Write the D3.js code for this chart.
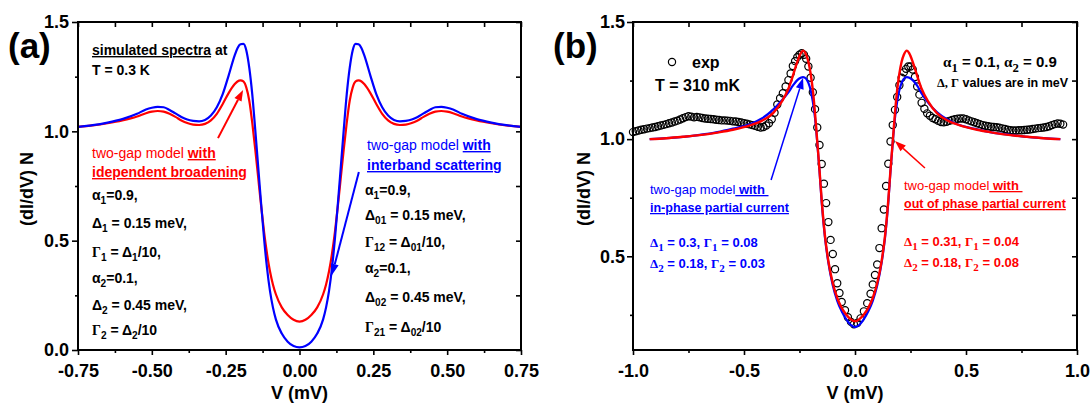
<!DOCTYPE html>
<html>
<head>
<meta charset="utf-8">
<script src="https://cdn.jsdelivr.net/npm/d3@7"></script>
<style>
  body { margin: 0; background: #fff; }
  svg { display: block; font-family: "Liberation Sans", Arial, sans-serif; }
  text { white-space: pre; }
</style>
</head>
<body>
<svg id="chart" width="1092" height="407"></svg>
<script>
// ---- panel (a): simulated spectra, [V (mV), N] ----
var broadenA = [
  [-0.75,1.02],[-0.70,1.027],[-0.65,1.037],[-0.60,1.05],[-0.55,1.068],[-0.52,1.083],[-0.50,1.09],
  [-0.48,1.093],[-0.46,1.09],[-0.44,1.08],[-0.42,1.066],[-0.40,1.05],[-0.38,1.038],[-0.36,1.031],
  [-0.34,1.029],[-0.32,1.034],[-0.30,1.05],[-0.28,1.08],[-0.26,1.125],[-0.24,1.175],[-0.22,1.215],
  [-0.21,1.228],[-0.20,1.233],[-0.19,1.228],[-0.18,1.2],[-0.17,1.14],[-0.16,1.04],[-0.15,0.92],
  [-0.14,0.79],[-0.13,0.66],[-0.12,0.54],[-0.11,0.44],[-0.10,0.36],[-0.09,0.30],[-0.08,0.255],
  [-0.06,0.195],[-0.04,0.16],[-0.02,0.138],[0,0.13],
  [0.02,0.138],[0.04,0.16],[0.06,0.195],[0.08,0.255],[0.09,0.30],[0.10,0.36],[0.11,0.44],
  [0.12,0.54],[0.13,0.66],[0.14,0.79],[0.15,0.92],[0.16,1.04],[0.17,1.14],[0.18,1.2],[0.19,1.228],
  [0.20,1.233],[0.21,1.228],[0.22,1.215],[0.24,1.175],[0.26,1.125],[0.28,1.08],[0.30,1.05],
  [0.32,1.034],[0.34,1.029],[0.36,1.031],[0.38,1.038],[0.40,1.05],[0.42,1.066],[0.44,1.08],
  [0.46,1.09],[0.48,1.093],[0.50,1.09],[0.52,1.083],[0.55,1.068],[0.60,1.05],[0.65,1.037],
  [0.70,1.027],[0.75,1.02]
];
var interbandA = [
  [-0.75,1.02],[-0.70,1.028],[-0.65,1.04],[-0.60,1.056],[-0.55,1.08],[-0.52,1.1],[-0.50,1.108],
  [-0.48,1.112],[-0.46,1.11],[-0.44,1.098],[-0.42,1.082],[-0.40,1.066],[-0.38,1.054],[-0.36,1.048],
  [-0.34,1.046],[-0.32,1.052],[-0.30,1.072],[-0.28,1.11],[-0.26,1.17],[-0.24,1.255],[-0.22,1.345],
  [-0.21,1.38],[-0.20,1.398],[-0.19,1.40],[-0.18,1.37],[-0.17,1.29],[-0.16,1.17],[-0.15,1.01],
  [-0.14,0.84],[-0.13,0.67],[-0.12,0.51],[-0.11,0.375],[-0.10,0.27],[-0.09,0.195],[-0.08,0.14],
  [-0.06,0.075],[-0.04,0.038],[-0.02,0.018],[0,0.012],
  [0.02,0.018],[0.04,0.038],[0.06,0.075],[0.08,0.14],[0.09,0.195],[0.10,0.27],[0.11,0.375],
  [0.12,0.51],[0.13,0.67],[0.14,0.84],[0.15,1.01],[0.16,1.17],[0.17,1.29],[0.18,1.37],[0.19,1.40],
  [0.20,1.398],[0.21,1.38],[0.22,1.345],[0.24,1.255],[0.26,1.17],[0.28,1.11],[0.30,1.072],
  [0.32,1.052],[0.34,1.046],[0.36,1.048],[0.38,1.054],[0.40,1.066],[0.42,1.082],[0.44,1.098],
  [0.46,1.11],[0.48,1.112],[0.50,1.108],[0.52,1.1],[0.55,1.08],[0.60,1.056],[0.65,1.04],
  [0.70,1.028],[0.75,1.02]
];
var xTicksA = [-0.75, -0.5, -0.25, 0, 0.25, 0.5, 0.75];
var xLabelsA = ["-0.75", "-0.50", "-0.25", "0.00", "0.25", "0.50", "0.75"];
var xMinorA = [-0.625, -0.375, -0.125, 0.125, 0.375, 0.625];
var yTicksA = [0, 0.5, 1.0, 1.5];
var yLabelsA = ["0.0", "0.5", "1.0", "1.5"];
var yMinorA = [0.25, 0.75, 1.25];

// ---- panel (b): experiment + fits, [V (mV), N] ----
var expB = [
  [-1.000,1.030],[-0.9875,1.034],[-0.975,1.037],[-0.9625,1.040],[-0.950,1.042],[-0.9375,1.045],
  [-0.925,1.047],[-0.9125,1.050],[-0.900,1.052],[-0.8875,1.055],[-0.875,1.058],[-0.8625,1.061],
  [-0.850,1.064],[-0.8375,1.068],[-0.825,1.071],[-0.8125,1.075],[-0.800,1.079],[-0.7875,1.084],
  [-0.775,1.089],[-0.7625,1.094],[-0.750,1.098],[-0.7375,1.096],[-0.725,1.093],[-0.7125,1.095],
  [-0.700,1.093],[-0.6875,1.090],[-0.675,1.088],[-0.6625,1.087],[-0.650,1.086],[-0.6375,1.085],
  [-0.625,1.083],[-0.6125,1.082],[-0.600,1.080],[-0.5875,1.080],[-0.575,1.079],[-0.5625,1.078],
  [-0.550,1.076],[-0.5375,1.075],[-0.525,1.073],[-0.5125,1.071],[-0.500,1.068],[-0.4875,1.066],
  [-0.475,1.063],[-0.4625,1.060],[-0.450,1.057],[-0.4375,1.053],[-0.425,1.050],[-0.4125,1.052],
  [-0.400,1.058],[-0.3875,1.068],[-0.375,1.085],[-0.3625,1.113],[-0.350,1.148],[-0.3375,1.175],
  [-0.325,1.196],[-0.3125,1.225],[-0.300,1.252],[-0.290,1.280],[-0.280,1.312],[-0.270,1.333],
  [-0.260,1.350],[-0.250,1.360],[-0.240,1.367],[-0.230,1.360],[-0.220,1.343],[-0.210,1.310],
  [-0.200,1.262],[-0.190,1.200],[-0.180,1.128],[-0.170,1.050],[-0.160,0.975],[-0.150,0.894],
  [-0.140,0.810],[-0.130,0.727],[-0.120,0.646],[-0.110,0.570],[-0.100,0.510],[-0.090,0.445],
  [-0.080,0.385],[-0.070,0.343],[-0.060,0.305],[-0.045,0.270],[-0.032,0.240],[-0.018,0.220],
  [-0.005,0.210],
  [0.010,0.215],[0.025,0.235],[0.040,0.265],[0.055,0.300],[0.070,0.340],[0.080,0.380],
  [0.090,0.420],[0.100,0.465],[0.110,0.535],[0.120,0.620],[0.130,0.700],[0.140,0.800],
  [0.150,0.895],[0.160,0.990],[0.170,1.060],[0.180,1.125],[0.190,1.180],[0.200,1.230],
  [0.210,1.262],[0.220,1.285],[0.230,1.300],[0.240,1.310],[0.250,1.310],[0.260,1.297],
  [0.270,1.265],[0.280,1.225],[0.290,1.190],[0.300,1.155],[0.3125,1.130],[0.325,1.110],
  [0.3375,1.100],[0.350,1.090],[0.3625,1.085],[0.375,1.078],[0.3875,1.073],[0.400,1.072],
  [0.4125,1.074],[0.425,1.078],[0.4375,1.082],[0.450,1.085],[0.4625,1.087],[0.475,1.088],
  [0.4875,1.088],[0.500,1.085],[0.5125,1.080],[0.525,1.076],[0.5375,1.072],[0.550,1.068],
  [0.5625,1.064],[0.575,1.060],[0.5875,1.057],[0.600,1.055],[0.6125,1.053],[0.625,1.052],
  [0.6375,1.051],[0.650,1.049],[0.6625,1.046],[0.675,1.043],[0.6875,1.040],[0.700,1.038],
  [0.7125,1.037],[0.725,1.037],[0.7375,1.038],[0.750,1.038],[0.7625,1.039],[0.775,1.040],
  [0.7875,1.041],[0.800,1.043],[0.8125,1.045],[0.825,1.047],[0.8375,1.048],[0.850,1.050],
  [0.8625,1.052],[0.875,1.055],[0.8875,1.060],[0.900,1.064],[0.9125,1.067],[0.925,1.066],
  [0.9375,1.062]
];
var inPhaseB = [
  [-0.925,1.000],[-0.85,1.004],[-0.775,1.010],[-0.70,1.018],[-0.62,1.030],[-0.55,1.045],
  [-0.47,1.065],[-0.42,1.088],[-0.37,1.125],[-0.33,1.165],[-0.30,1.200],[-0.28,1.228],
  [-0.26,1.252],[-0.245,1.262],[-0.234,1.265],[-0.22,1.258],[-0.21,1.24],[-0.20,1.21],
  [-0.19,1.16],[-0.18,1.09],[-0.17,0.985],[-0.16,0.865],[-0.15,0.73],[-0.135,0.578],
  [-0.12,0.473],[-0.10,0.375],[-0.08,0.31],[-0.06,0.265],[-0.04,0.232],[-0.02,0.208],[0,0.198],
  [0.02,0.208],[0.04,0.232],[0.06,0.265],[0.08,0.31],[0.10,0.375],[0.12,0.473],[0.135,0.578],
  [0.15,0.73],[0.16,0.865],[0.17,0.985],[0.18,1.09],[0.19,1.16],[0.20,1.21],[0.21,1.24],
  [0.22,1.258],[0.234,1.265],[0.245,1.262],[0.26,1.252],[0.28,1.228],[0.30,1.195],[0.33,1.155],
  [0.37,1.115],[0.42,1.082],[0.47,1.06],[0.55,1.042],[0.62,1.028],[0.70,1.018],[0.775,1.010],
  [0.85,1.004],[0.925,1.000]
];
var outPhaseB = [
  [-0.925,1.000],[-0.85,1.004],[-0.775,1.010],[-0.70,1.017],[-0.62,1.028],[-0.55,1.040],
  [-0.47,1.060],[-0.42,1.078],[-0.37,1.110],[-0.33,1.160],[-0.30,1.215],[-0.28,1.270],
  [-0.26,1.330],[-0.245,1.365],[-0.234,1.378],[-0.22,1.360],[-0.21,1.330],[-0.20,1.280],
  [-0.19,1.210],[-0.18,1.110],[-0.17,0.990],[-0.16,0.870],[-0.15,0.740],[-0.135,0.585],
  [-0.12,0.480],[-0.10,0.385],[-0.08,0.322],[-0.06,0.280],[-0.04,0.252],[-0.02,0.232],[0,0.222],
  [0.02,0.232],[0.04,0.252],[0.06,0.280],[0.08,0.322],[0.10,0.385],[0.12,0.480],[0.135,0.585],
  [0.15,0.740],[0.16,0.870],[0.17,0.990],[0.18,1.110],[0.19,1.210],[0.20,1.280],[0.21,1.330],
  [0.22,1.360],[0.234,1.378],[0.245,1.365],[0.26,1.330],[0.28,1.270],[0.30,1.215],[0.33,1.160],
  [0.37,1.110],[0.42,1.078],[0.47,1.060],[0.55,1.040],[0.62,1.028],[0.70,1.017],[0.775,1.010],
  [0.85,1.004],[0.925,1.000]
];
var xTicksB = [-1, -0.5, 0, 0.5, 1];
var xLabelsB = ["-1.0", "-0.5", "0.0", "0.5", "1.0"];
var xMinorB = [-0.75, -0.25, 0.25, 0.75];
var yTicksB = [0.5, 1.0, 1.5];
var yLabelsB = ["0.5", "1.0", "1.5"];
var yMinorB = [0.25, 0.75, 1.25];

var RED = "#ff0000", BLUE = "#0000ff";
var SERIF = "'Liberation Serif', 'Times New Roman', serif";

document.addEventListener('DOMContentLoaded', function() {
  drawChart();
});

function drawChart() {
  var svg = d3.select('#chart');
  svg.append("rect").attr("width", 1092).attr("height", 407).attr("fill", "#fff");

  //scales
  var xA = d3.scaleLinear().domain([-0.75, 0.75]).range([78, 521]);
  var yA = d3.scaleLinear().domain([0, 1.5]).range([350, 22]);
  var xB = d3.scaleLinear().domain([-1, 1]).range([633, 1077]);
  var yB = d3.scaleLinear().domain([0.1, 1.5]).range([350, 22]);

  // ---------- panel (a) ----------
  var ga = svg.append("g");
  var lineA = d3.line().x(function(d) { return xA(d[0]); }).y(function(d) { return yA(d[1]); })
      .curve(d3.curveMonotoneX);
  ga.append("path").datum(broadenA).attr("d", lineA)
      .attr("fill", "none").attr("stroke", RED).attr("stroke-width", 2.2);
  ga.append("path").datum(interbandA).attr("d", lineA)
      .attr("fill", "none").attr("stroke", BLUE).attr("stroke-width", 2.2);

  drawAxes(ga, xA, yA, {
    xMajor: xTicksA, xLabels: xLabelsA, xMinor: xMinorA,
    yMajor: yTicksA, yLabels: yLabelsA, yMinor: yMinorA,
    yPad: 3, title: 33
  });

  arrow(ga, xA(-0.276), yA(0.969), xA(-0.191), yA(1.189), RED, 2);
  arrow(ga, xA(0.201), yA(0.814), xA(0.110), yA(0.343), BLUE, 2);

  ga.append("text").attr("x", 8).attr("y", 58)
      .attr("font-size", 35).attr("font-weight", "bold").text("(a)");

  rich(ga, 92, 55, 14, "#000", [{t: "simulated spectra", u: 1}, " at"]);
  rich(ga, 92, 75, 14, "#000", ["T = 0.3 K"]);
  rich(ga, 92, 158, 14, RED, [{t: "two-gap model ", w: "normal"}, {t: "with", u: 1}]);
  rich(ga, 92, 177, 14, RED, [{t: "idependent broadening", u: 1}]);
  rich(ga, 92, 200, 14, "#000", ["α", {t: "1", s: 1}, "=0.9,"]);
  rich(ga, 92, 228, 14, "#000", ["Δ", {t: "1", s: 1}, " = 0.15 meV,"]);
  rich(ga, 92, 257, 14, "#000", [{t: "Γ", f: 1}, {t: "1", s: 1}, " = Δ", {t: "1", s: 1}, "/10,"]);
  rich(ga, 92, 283, 14, "#000", ["α", {t: "2", s: 1}, "=0.1,"]);
  rich(ga, 92, 310, 14, "#000", ["Δ", {t: "2", s: 1}, " = 0.45 meV,"]);
  rich(ga, 92, 335, 14, "#000", [{t: "Γ", f: 1}, {t: "2", s: 1}, " = Δ", {t: "2", s: 1}, "/10"]);

  rich(ga, 367, 150, 14, BLUE, [{t: "two-gap model ", w: "normal"}, {t: "with", u: 1}]);
  rich(ga, 367, 170, 14, BLUE, [{t: "interband scattering", u: 1}]);
  rich(ga, 365, 195, 14, "#000", ["α", {t: "1", s: 1}, "=0.9,"]);
  rich(ga, 365, 220, 14, "#000", ["Δ", {t: "01", s: 1}, " = 0.15 meV,"]);
  rich(ga, 365, 247, 14, "#000", [{t: "Γ", f: 1}, {t: "12", s: 1}, " = Δ", {t: "01", s: 1}, "/10,"]);
  rich(ga, 365, 273, 14, "#000", ["α", {t: "2", s: 1}, "=0.1,"]);
  rich(ga, 365, 302, 14, "#000", ["Δ", {t: "02", s: 1}, " = 0.45 meV,"]);
  rich(ga, 365, 332, 14, "#000", [{t: "Γ", f: 1}, {t: "21", s: 1}, " = Δ", {t: "02", s: 1}, "/10"]);

  // ---------- panel (b) ----------
  var gb = svg.append("g");
  var lineB = d3.line().x(function(d) { return xB(d[0]); }).y(function(d) { return yB(d[1]); })
      .curve(d3.curveMonotoneX);

  gb.append("g").selectAll("circle")
      .data(expB)
      .enter()
      .append("circle")
      .attr("cx", function(d) { return xB(d[0]); })
      .attr("cy", function(d) { return yB(d[1]); })
      .attr("r", 3.6)
      .attr("fill", "none").attr("stroke", "#000").attr("stroke-width", 1.2);

  gb.append("path").datum(inPhaseB).attr("d", lineB)
      .attr("fill", "none").attr("stroke", BLUE).attr("stroke-width", 2.2);
  gb.append("path").datum(outPhaseB).attr("d", lineB)
      .attr("fill", "none").attr("stroke", RED).attr("stroke-width", 2.4);

  drawAxes(gb, xB, yB, {
    xMajor: xTicksB, xLabels: xLabelsB, xMinor: xMinorB,
    yMajor: yTicksB, yLabels: yLabelsB, yMinor: yMinorB,
    yPad: 2, title: 590
  });

  arrow(gb, xB(-0.378), yB(0.826), xB(-0.234), yB(1.261), BLUE, 1.5);
  arrow(gb, xB(0.315), yB(0.877), xB(0.18), yB(0.992), RED, 1.5);

  gb.append("text").attr("x", 553).attr("y", 58)
      .attr("font-size", 35).attr("font-weight", "bold").text("(b)");

  //legend
  gb.append("circle").attr("cx", 672).attr("cy", 62).attr("r", 3.6)
      .attr("fill", "none").attr("stroke", "#000").attr("stroke-width", 1.2);
  rich(gb, 692, 68, 16, "#000", ["exp"]);
  rich(gb, 655, 91, 16, "#000", ["T = 310 mK"]);

  rich(gb, 943, 67, 15, "#000", [{t: "α", f: 1}, {t: "1", s: 1, f: 1}, " = 0.1, ",
      {t: "α", f: 1}, {t: "2", s: 1, f: 1}, " = 0.9"]);
  rich(gb, 937, 87, 12.5, "#000", [{t: "Δ, Γ", f: 1}, " values are in meV"]);

  rich(gb, 650, 194, 13, BLUE, [{t: "two-gap model", w: "normal"}, {t: " with ", u: 1}]);
  rich(gb, 650, 212, 12.5, BLUE, [{t: "in-phase partial current", u: 1}]);
  rich(gb, 650, 247, 13, BLUE, [{t: "Δ", f: 1}, {t: "1", s: 1, f: 1}, " = 0.3, ",
      {t: "Γ", f: 1}, {t: "1", s: 1, f: 1}, " = 0.08"]);
  rich(gb, 650, 268, 13, BLUE, [{t: "Δ", f: 1}, {t: "2", s: 1, f: 1}, " = 0.18, ",
      {t: "Γ", f: 1}, {t: "2", s: 1, f: 1}, " = 0.03"]);

  rich(gb, 904, 190, 13, RED, [{t: "two-gap model", w: "normal"}, {t: " with ", u: 1}]);
  rich(gb, 904, 208, 12.5, RED, [{t: "out of phase partial current", u: 1}]);
  rich(gb, 904, 246, 13, RED, [{t: "Δ", f: 1}, {t: "1", s: 1, f: 1}, " = 0.31, ",
      {t: "Γ", f: 1}, {t: "1", s: 1, f: 1}, " = 0.04"]);
  rich(gb, 904, 267, 13, RED, [{t: "Δ", f: 1}, {t: "2", s: 1, f: 1}, " = 0.18, ",
      {t: "Γ", f: 1}, {t: "2", s: 1, f: 1}, " = 0.08"]);
}

// frame, ticks on all four sides, tick labels and titles
function drawAxes(g, x, y, o) {
  var x0 = x.range()[0], x1 = x.range()[1];
  var y0 = y.range()[0], y1 = y.range()[1];
  var font = function(sel) {
    sel.attr("font-family", "'Liberation Sans', Arial, sans-serif")
       .attr("font-size", 18).attr("font-weight", "bold");
    sel.select(".domain").remove();
    sel.selectAll(".tick line").attr("stroke-width", 1.6);
  };

  g.append("g").attr("transform", "translate(0," + y0 + ")")
      .call(d3.axisBottom(x).tickValues(o.xMajor).tickSize(5).tickPadding(9)
        .tickFormat(function(d, i) { return o.xLabels[i]; }))
      .call(font);
  g.append("g").attr("transform", "translate(0," + y0 + ")")
      .call(d3.axisBottom(x).tickValues(o.xMinor).tickSize(3).tickFormat(""))
      .call(font);
  g.append("g").attr("transform", "translate(0," + y1 + ")")
      .call(d3.axisTop(x).tickValues(o.xMajor.concat(o.xMinor)).tickSize(-5).tickFormat(""))
      .call(font);

  g.append("g").attr("transform", "translate(" + x0 + ",0)")
      .call(d3.axisLeft(y).tickValues(o.yMajor).tickSize(6).tickPadding(o.yPad)
        .tickFormat(function(d, i) { return o.yLabels[i]; }))
      .call(font);
  g.append("g").attr("transform", "translate(" + x0 + ",0)")
      .call(d3.axisLeft(y).tickValues(o.yMinor).tickSize(3).tickFormat(""))
      .call(font);
  g.append("g").attr("transform", "translate(" + x1 + ",0)")
      .call(d3.axisRight(y).tickValues(o.yMajor.concat(o.yMinor)).tickSize(-5).tickFormat(""))
      .call(font);

  g.append("rect")
      .attr("x", x0).attr("y", y1)
      .attr("width", x1 - x0).attr("height", y0 - y1)
      .attr("fill", "none").attr("stroke", "#000").attr("stroke-width", 2);

  g.append("text")
      .attr("x", (x0 + x1) / 2).attr("y", 399)
      .attr("text-anchor", "middle")
      .attr("font-size", 18).attr("font-weight", "bold")
      .text("V (mV)");
  g.append("text")
      .attr("transform", "translate(" + o.title + ",189) rotate(-90)")
      .attr("text-anchor", "middle")
      .attr("font-size", 18).attr("font-weight", "bold")
      .text("(dI/dV) N");
}

// line with a filled head at (x2,y2)
function arrow(g, x1, y1, x2, y2, color, w) {
  var ang = Math.atan2(y2 - y1, x2 - x1);
  var len = 11, half = 4;
  var bx = x2 - len * Math.cos(ang), by = y2 - len * Math.sin(ang);
  g.append("line")
      .attr("x1", x1).attr("y1", y1).attr("x2", bx).attr("y2", by)
      .attr("stroke", color).attr("stroke-width", w);
  var px = -Math.sin(ang) * half, py = Math.cos(ang) * half;
  g.append("path")
      .attr("d", "M" + x2 + "," + y2 + "L" + (bx + px) + "," + (by + py) +
                 "L" + (bx - px) + "," + (by - py) + "Z")
      .attr("fill", color);
}

// text made of parts: {t, s: subscript, f: serif, u: underline, w: weight}
function rich(g, x, y, size, color, parts) {
  var text = g.append("text")
      .attr("x", x).attr("y", y)
      .attr("font-size", size).attr("font-weight", "bold")
      .attr("fill", color);
  var shift = 0;
  parts.forEach(function(p) {
    if (typeof p === "string") p = { t: p };
    var span = text.append("tspan").text(p.t);
    var want = p.s ? Math.round(size * 0.3) : 0;
    if (want !== shift) { span.attr("dy", want - shift); shift = want; }
    if (p.s) span.attr("font-size", size * (p.f ? 0.85 : 0.72));
    if (p.f) span.attr("font-family", SERIF);
    if (p.u) span.attr("text-decoration", "underline");
    if (p.w) span.attr("font-weight", p.w);
  });
  return text;
}
</script>
</body>
</html>
